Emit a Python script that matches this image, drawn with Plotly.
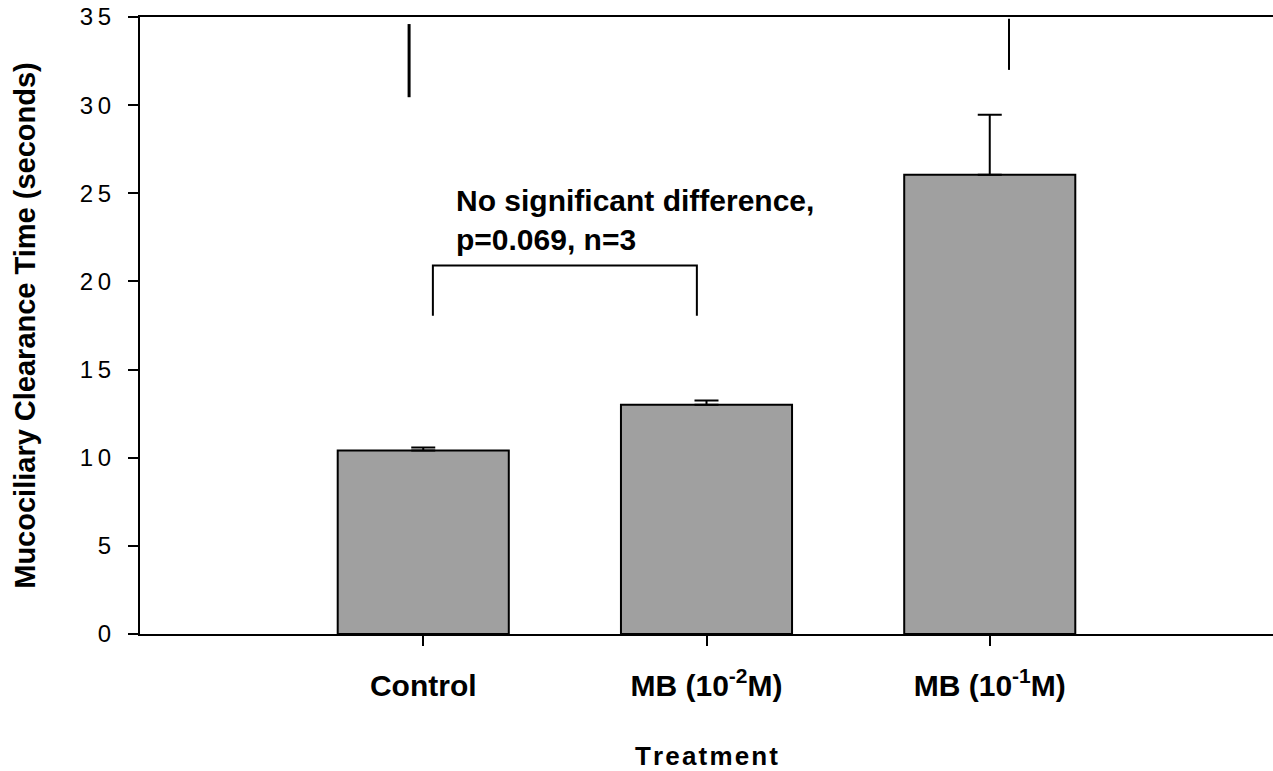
import plotly.graph_objects as go

# Data
categories = ["Control", "MB (10<sup>-2</sup>M)", "MB (10<sup>-1</sup>M)"]
cat_pos = [0, 1, 2]
means = [10.41, 13.0, 26.05]
errors_plus = [0.17, 0.25, 3.4]

y_ticks = [0, 5, 10, 15, 20, 25, 30, 35]
y_tick_text = ["0", "5", "1\u20090", "1\u20095", "2\u20090", "2\u20095", "3\u20090", "3\u20095"]

# significance bracket (data coords)
bracket_x = [0.034, 0.034, 0.966, 0.966]
bracket_y = [18.05, 20.9, 20.9, 18.05]
annot_text = "No significant difference,<br>p=0.069, n=3"
annot_x = 0.11
annot_y = 23.5

# stray vertical marks at top
mark1_x = [-0.05, -0.05]
mark1_y = [34.6, 30.45]
mark2_x = [2.068, 2.068]
mark2_y = [34.9, 32.0]

x_title = "\u200a".join("Treatment")

FONT = "Arial, 'Liberation Sans', Helvetica, sans-serif"

fig = go.Figure()
fig.add_trace(go.Bar(
    x=cat_pos, y=means, width=0.604,
    marker=dict(color="#a0a0a0", line=dict(color="black", width=2)),
    error_y=dict(type="data", array=errors_plus, arrayminus=[0, 0, 0], symmetric=False,
                 color="black", thickness=2, width=12),
    showlegend=False,
))
fig.add_trace(go.Scatter(x=bracket_x, y=bracket_y, mode="lines",
                         line=dict(color="black", width=2), showlegend=False))
fig.add_trace(go.Scatter(x=mark1_x, y=mark1_y, mode="lines",
                         line=dict(color="black", width=3), showlegend=False))
fig.add_trace(go.Scatter(x=mark2_x, y=mark2_y, mode="lines",
                         line=dict(color="black", width=2), showlegend=False))

fig.add_annotation(x=annot_x, y=annot_y, xref="x", yref="y", text=annot_text,
                   showarrow=False, xanchor="left", yanchor="middle", align="left",
                   font=dict(family=FONT, size=30, color="black", weight="bold"))

fig.update_layout(
    width=1273, height=771,
    margin=dict(l=140, r=0, t=17, b=137),
    paper_bgcolor="white", plot_bgcolor="white",
    font=dict(family=FONT, color="black"),
)
fig.update_xaxes(
    range=[-1, 3], tickvals=cat_pos, ticktext=categories,
    showline=True, linecolor="black", linewidth=2, mirror=True,
    ticks="outside", ticklen=10, tickwidth=2, tickcolor="black",
    ticklabelstandoff=14,
    tickfont=dict(family=FONT, size=30, weight="bold"),
    showgrid=False, zeroline=False,
    title=dict(text=x_title, standoff=48,
               font=dict(family=FONT, size=26, weight="bold")),
    automargin=False,
)
fig.update_yaxes(
    range=[0, 35], tickvals=y_ticks, ticktext=y_tick_text,
    showline=True, linecolor="black", linewidth=2,
    ticks="outside", ticklen=10, tickwidth=2, tickcolor="black",
    ticklabelstandoff=12,
    tickfont=dict(family=FONT, size=24),
    showgrid=False, zeroline=False,
    title=dict(text="Mucociliary Clearance Time (seconds)", standoff=36,
               font=dict(family=FONT, size=29, weight="bold")),
    automargin=False,
)

fig.write_html("out.html", config={"displayModeBar": False},
               post_script="document.body.style.margin='0';document.body.style.overflow='hidden';")
